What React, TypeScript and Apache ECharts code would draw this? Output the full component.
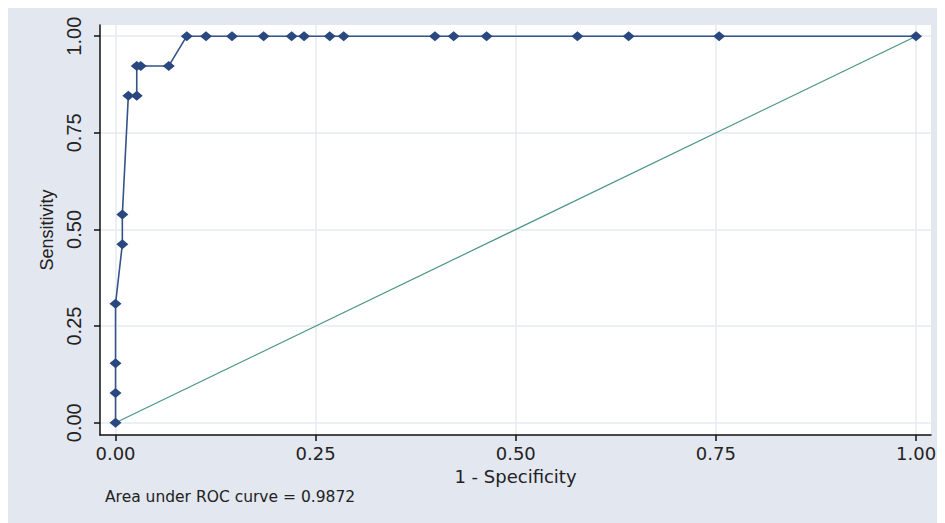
import React, { useEffect, useRef } from "react";
import * as echarts from "echarts";

// ROC curve points: false positive rate (1 - specificity) and true positive rate (sensitivity)
const fpr = [
  0, 0, 0, 0, 0.0085, 0.0085, 0.016, 0.0265, 0.0265, 0.0315, 0.0665, 0.089,
  0.113, 0.1455, 0.185, 0.22, 0.2355, 0.2676, 0.285, 0.399, 0.4224, 0.4635,
  0.577, 0.641, 0.754, 1,
];
const tpr = [
  0, 0.0769, 0.1538, 0.3077, 0.4615, 0.5385, 0.8462, 0.8462, 0.9231, 0.9231,
  0.9231, 1, 1, 1, 1, 1, 1, 1, 1, 1, 1, 1, 1, 1, 1, 1,
];
// Chance line
const refX = [0, 1];
const refY = [0, 1];
const tickValues = [0, 0.25, 0.5, 0.75, 1];
const areaUnderCurve = "0.9872";

export default function App() {
  const ref = useRef<HTMLDivElement>(null);

  useEffect(() => {
    if (!ref.current) return;
    const chart = echarts.init(ref.current, undefined, { renderer: "svg" });
    const fmt = (v: number) => v.toFixed(2);
    const gridColor = "#e6eaf2";
    chart.setOption({
      animation: false,
      backgroundColor: "#e3e7f0",
      grid: {
        left: 93,
        top: 19,
        right: 14,
        bottom: 88,
        show: true,
        backgroundColor: "#ffffff",
        borderWidth: 0,
      },
      xAxis: {
        type: "value",
        min: -0.0194,
        max: 1.0187,
        name: "1 - Specificity",
        nameLocation: "middle",
        nameGap: 32,
        nameTextStyle: { fontFamily: "DejaVu Sans", fontSize: 18, color: "#222" },
        axisLine: { show: true, onZero: false, lineStyle: { color: "#111", width: 1.5 } },
        axisTick: { show: true, length: 6, customValues: tickValues, lineStyle: { color: "#111", width: 1.5 } },
        axisLabel: {
          customValues: tickValues,
          formatter: fmt,
          margin: 9,
          fontFamily: "DejaVu Sans",
          fontSize: 18,
          color: "#222",
        },
        splitLine: { show: true, customValues: tickValues, lineStyle: { color: gridColor, width: 1.5 } },
      },
      yAxis: {
        type: "value",
        min: -0.0318,
        max: 1.029,
        name: "Sensitivity",
        nameLocation: "middle",
        nameGap: 44,
        nameTextStyle: { fontFamily: "Liberation Sans", fontSize: 18, color: "#222" },
        axisLine: { show: true, onZero: false, lineStyle: { color: "#111", width: 1.5 } },
        axisTick: { show: true, length: 6, customValues: tickValues, lineStyle: { color: "#111", width: 1.5 } },
        axisLabel: {
          customValues: tickValues,
          formatter: fmt,
          rotate: 90,
          margin: 16,
          fontFamily: "Liberation Sans",
          fontSize: 20,
          color: "#222",
        },
        splitLine: { show: true, customValues: tickValues, lineStyle: { color: gridColor, width: 1.5 } },
      },
      graphic: [
        {
          type: "text",
          left: 98,
          top: 483,
          style: {
            text: `Area under ROC curve = ${areaUnderCurve}`,
            fontFamily: "DejaVu Sans",
            fontSize: 15.5,
            fill: "#222",
          },
        },
      ],
      series: [
        {
          type: "line",
          data: refX.map((x, i) => [x, refY[i]]),
          showSymbol: false,
          symbol: "none",
          lineStyle: { color: "#4a9585", width: 1.2 },
          z: 2,
        },
        {
          type: "line",
          data: fpr.map((x, i) => [x, tpr[i]]),
          symbol: "diamond",
          symbolSize: [12, 10],
          itemStyle: { color: "#2a4880" },
          lineStyle: { color: "#34538a", width: 1.6 },
          z: 3,
        },
      ],
    });
    return () => chart.dispose();
  }, []);

  return (
    <div
      ref={ref}
      style={{ width: 938, height: 517, marginLeft: -1, marginTop: -2 }}
    />
  );
}
